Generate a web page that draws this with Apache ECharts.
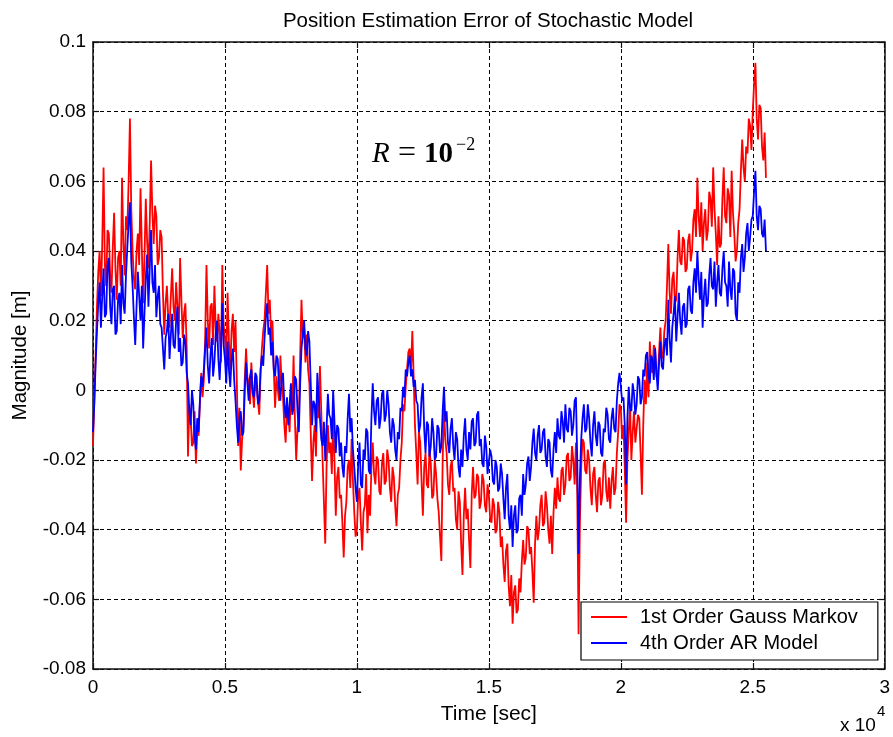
<!DOCTYPE html>
<html>
<head>
<meta charset="utf-8">
<script src="https://cdn.jsdelivr.net/npm/echarts@6/dist/echarts.min.js"></script>
<style>
  html, body { margin: 0; padding: 0; background: #ffffff; }
  #chart { width: 893px; height: 737px; }
</style>
</head>
<body>
<div id="chart"></div>
<script>
// Sampling interval of both error traces, in seconds
const sampleStep = 50;

// Position estimation error [m], 1st order Gauss-Markov model (one row = 1000 s)
const gaussMarkovError = [
  -0.016, -0.002, 0.010, 0.024, 0.034, 0.040, 0.027, 0.042, 0.064, 0.036, 0.030, 0.046, 0.045, 0.033, 0.028, 0.041, 0.051, 0.035, 0.026, 0.038,
  0.040, 0.030, 0.061, 0.042, 0.033, 0.050, 0.046, 0.060, 0.078, 0.052, 0.040, 0.032, 0.029, 0.040, 0.045, 0.036, 0.058, 0.041, 0.025, 0.038,
  0.055, 0.043, 0.035, 0.048, 0.066, 0.051, 0.042, 0.053, 0.050, 0.036, 0.038, 0.046, 0.044, 0.028, 0.016, 0.025, 0.030, 0.021, 0.018, 0.027,
  0.035, 0.024, 0.020, 0.031, 0.024, 0.016, 0.038, 0.026, 0.015, 0.022, 0.025, 0.012, -0.019, -0.004, -0.008, -0.016, -0.015, -0.006, -0.021, -0.012,
  -0.013, -0.004, 0.005, -0.002, 0.003, 0.015, 0.036, 0.020, 0.012, 0.024, 0.025, 0.013, 0.030, 0.018, 0.014, 0.022, 0.016, 0.008, 0.036, 0.019,
  0.015, 0.008, 0.028, 0.014, 0.006, 0.017, 0.022, 0.011, 0.020, 0.002, -0.016, -0.005, -0.023, -0.014, -0.010, 0.003, 0.012, 0.004, 0.002, -0.004,
  0.008, 0.000, -0.005, 0.004, 0.004, -0.003, -0.007, 0.005, 0.012, 0.017, 0.020, 0.028, 0.036, 0.022, 0.026, 0.014, 0.020, 0.006, -0.005, 0.004,
  0.004, -0.003, 0.010, 0.002, -0.002, -0.010, -0.015, -0.004, -0.006, -0.012, 0.001, -0.006, 0.010, -0.008, -0.020, -0.011, -0.008, 0.010, 0.026, 0.015,
  0.018, 0.008, 0.016, 0.006, 0.002, -0.012, -0.026, -0.015, -0.010, -0.019, 0.000, -0.008, 0.007, -0.006, -0.020, -0.032, -0.044, -0.022, -0.010, -0.018,
  -0.015, -0.024, -0.008, -0.020, -0.036, -0.025, -0.022, -0.031, -0.030, -0.038, -0.048, -0.036, -0.032, -0.022, -0.020, -0.028, -0.014, -0.026, -0.035, -0.042,
  -0.040, -0.030, -0.028, -0.038, -0.046, -0.035, -0.033, -0.024, -0.041, -0.030, -0.036, -0.022, -0.015, -0.024, -0.027, -0.019, -0.020, -0.029, -0.030, -0.021,
  -0.018, -0.027, -0.026, -0.017, -0.020, -0.028, -0.032, -0.022, -0.025, -0.033, -0.039, -0.030, -0.028, -0.020, -0.015, -0.004, -0.006, 0.001, 0.006, 0.011,
  0.012, 0.006, 0.017, 0.004, -0.010, -0.018, -0.027, -0.012, -0.015, -0.026, -0.036, -0.022, -0.018, -0.027, -0.028, -0.017, -0.021, -0.031, -0.030, -0.020,
  -0.024, -0.031, -0.035, -0.042, -0.049, -0.020, -0.005, -0.014, -0.018, -0.027, -0.030, -0.022, -0.020, -0.029, -0.028, -0.037, -0.040, -0.029, -0.032, -0.044,
  -0.053, -0.036, -0.028, -0.037, -0.034, -0.043, -0.051, -0.030, -0.022, -0.031, -0.030, -0.024, -0.025, -0.034, -0.032, -0.024, -0.026, -0.033, -0.035, -0.027,
  -0.030, -0.037, -0.038, -0.031, -0.033, -0.041, -0.040, -0.032, -0.035, -0.045, -0.042, -0.050, -0.055, -0.046, -0.044, -0.056, -0.062, -0.053, -0.067, -0.058,
  -0.056, -0.064, -0.063, -0.054, -0.058, -0.049, -0.043, -0.050, -0.048, -0.039, -0.040, -0.047, -0.045, -0.052, -0.061, -0.044, -0.036, -0.043, -0.040, -0.033,
  -0.030, -0.039, -0.038, -0.029, -0.033, -0.040, -0.044, -0.036, -0.047, -0.035, -0.028, -0.034, -0.025, -0.031, -0.032, -0.023, -0.022, -0.030, -0.027, -0.019,
  -0.018, -0.026, -0.025, -0.016, -0.020, -0.027, -0.015, -0.030, -0.070, -0.038, -0.022, -0.014, -0.015, -0.023, -0.024, -0.017, -0.020, -0.028, -0.033, -0.024,
  -0.022, -0.030, -0.035, -0.026, -0.025, -0.033, -0.030, -0.021, -0.020, -0.029, -0.032, -0.025, -0.034, -0.026, -0.022, -0.030, -0.028, -0.018, -0.012, -0.004,
  -0.005, -0.014, -0.010, -0.022, -0.038, -0.020, -0.012, -0.004, -0.020, -0.012, -0.006, -0.015, -0.015, -0.007, -0.008, -0.018, -0.030, -0.010, 0.003, -0.004,
  0.008, -0.002, 0.014, 0.006, 0.005, 0.013, 0.012, 0.004, 0.003, 0.011, 0.018, 0.009, 0.010, 0.017, 0.020, 0.030, 0.042, 0.028, 0.022, 0.032,
  0.034, 0.025, 0.026, 0.038, 0.046, 0.037, 0.036, 0.044, 0.043, 0.034, 0.035, 0.043, 0.045, 0.037, 0.040, 0.049, 0.052, 0.044, 0.061, 0.050,
  0.044, 0.054, 0.040, 0.048, 0.052, 0.043, 0.046, 0.057, 0.055, 0.047, 0.064, 0.052, 0.045, 0.036, 0.050, 0.041, 0.042, 0.055, 0.064, 0.050,
  0.048, 0.058, 0.056, 0.044, 0.063, 0.051, 0.045, 0.037, 0.040, 0.048, 0.052, 0.063, 0.072, 0.064, 0.060, 0.070, 0.068, 0.078, 0.076, 0.069,
  0.080, 0.088, 0.094, 0.078, 0.072, 0.082, 0.081, 0.070, 0.066, 0.074, 0.061
];

// Position estimation error [m], 4th order AR model (one row = 1000 s)
const arModelError = [
  -0.012, -0.004, 0.008, 0.017, 0.025, 0.031, 0.018, 0.027, 0.035, 0.021, 0.022, 0.036, 0.038, 0.024, 0.019, 0.029, 0.030, 0.016, 0.017, 0.026,
  0.028, 0.019, 0.036, 0.025, 0.022, 0.033, 0.041, 0.048, 0.054, 0.037, 0.030, 0.021, 0.013, 0.024, 0.034, 0.027, 0.020, 0.030, 0.012, 0.022,
  0.032, 0.039, 0.024, 0.035, 0.046, 0.031, 0.028, 0.036, 0.021, 0.027, 0.030, 0.019, 0.018, 0.012, 0.006, 0.015, 0.017, 0.022, 0.009, 0.016,
  0.022, 0.013, 0.012, 0.020, 0.024, 0.011, 0.015, 0.007, 0.008, 0.016, 0.014, 0.005, 0.002, -0.006, -0.010, 0.000, -0.004, -0.013, -0.017, -0.008,
  -0.012, -0.003, 0.004, 0.001, 0.006, 0.012, 0.018, 0.007, 0.002, 0.010, 0.015, 0.004, 0.008, 0.016, 0.020, 0.009, 0.003, 0.012, 0.025, 0.013,
  0.009, 0.002, 0.014, 0.006, 0.001, 0.009, 0.012, 0.003, -0.003, -0.010, -0.015, -0.008, -0.006, -0.013, -0.012, 0.000, 0.008, 0.002, -0.003, 0.004,
  0.006, -0.001, -0.002, 0.005, 0.004, -0.004, -0.003, 0.006, 0.010, 0.007, 0.015, 0.021, 0.025, 0.016, 0.018, 0.010, 0.014, 0.006, 0.004, 0.010,
  0.009, 0.001, -0.003, 0.004, 0.005, -0.004, -0.008, -0.002, -0.010, -0.004, 0.002, -0.007, -0.005, 0.004, 0.003, -0.006, -0.012, 0.002, 0.012, 0.016,
  0.020, 0.012, 0.010, 0.017, 0.014, 0.002, -0.010, -0.003, -0.004, -0.012, 0.005, -0.002, -0.008, -0.014, -0.016, -0.009, -0.020, -0.011, -0.001, -0.007,
  -0.008, -0.014, 0.000, -0.009, -0.018, -0.010, -0.011, -0.019, -0.015, -0.022, -0.025, -0.016, -0.018, -0.008, -0.001, -0.012, -0.008, -0.017, -0.022, -0.028,
  -0.032, -0.021, -0.015, -0.027, -0.028, -0.017, -0.020, -0.011, -0.012, -0.023, -0.024, -0.008, 0.002, -0.006, -0.010, -0.003, -0.002, -0.011, -0.008, -0.001,
  0.000, -0.009, -0.007, 0.000, -0.004, -0.012, -0.015, -0.008, -0.010, -0.017, -0.020, -0.012, -0.014, -0.005, -0.006, 0.001, -0.002, 0.006, 0.004, 0.008,
  0.010, 0.004, 0.006, 0.001, 0.003, -0.003, -0.004, -0.012, -0.010, -0.002, 0.002, -0.011, -0.018, -0.009, -0.010, -0.019, -0.016, -0.008, -0.012, -0.020,
  -0.019, -0.010, -0.011, -0.018, -0.016, -0.006, 0.001, -0.009, -0.006, -0.015, -0.018, -0.011, -0.008, -0.016, -0.020, -0.012, -0.014, -0.022, -0.025, -0.017,
  -0.022, -0.013, -0.008, -0.017, -0.020, -0.012, -0.017, -0.009, -0.008, -0.016, -0.015, -0.007, -0.006, -0.016, -0.014, -0.021, -0.022, -0.013, -0.016, -0.024,
  -0.024, -0.017, -0.019, -0.026, -0.027, -0.020, -0.022, -0.029, -0.028, -0.021, -0.024, -0.031, -0.037, -0.028, -0.024, -0.036, -0.040, -0.033, -0.045, -0.036,
  -0.033, -0.041, -0.040, -0.031, -0.030, -0.036, -0.024, -0.030, -0.027, -0.021, -0.019, -0.026, -0.022, -0.015, -0.011, -0.018, -0.020, -0.013, -0.010, -0.018,
  -0.017, -0.012, -0.011, -0.019, -0.022, -0.014, -0.015, -0.023, -0.025, -0.017, -0.012, -0.018, -0.008, -0.013, -0.014, -0.006, -0.009, -0.015, -0.004, -0.011,
  -0.012, -0.005, -0.006, -0.013, -0.010, -0.003, -0.002, -0.020, -0.047, -0.025, -0.014, -0.008, -0.004, -0.012, -0.011, -0.004, -0.008, -0.015, -0.019, -0.010,
  -0.006, -0.013, -0.016, -0.009, -0.010, -0.018, -0.019, -0.011, -0.012, -0.005, -0.007, -0.014, -0.015, -0.008, -0.005, -0.011, -0.012, -0.003, 0.002, 0.005,
  0.005, -0.003, -0.002, -0.010, -0.027, -0.008, 0.001, -0.005, -0.006, 0.002, -0.001, -0.007, -0.004, 0.004, 0.003, -0.004, -0.002, 0.006, 0.004, 0.010,
  0.011, 0.004, 0.002, 0.010, 0.009, 0.003, 0.012, 0.005, 0.000, 0.008, 0.014, 0.007, 0.006, 0.013, 0.015, 0.010, 0.026, 0.015, 0.008, 0.018,
  0.022, 0.027, 0.014, 0.021, 0.028, 0.020, 0.016, 0.024, 0.025, 0.018, 0.019, 0.029, 0.030, 0.023, 0.022, 0.031, 0.035, 0.028, 0.040, 0.032,
  0.026, 0.034, 0.018, 0.027, 0.032, 0.024, 0.025, 0.033, 0.038, 0.030, 0.029, 0.037, 0.024, 0.031, 0.036, 0.028, 0.027, 0.035, 0.040, 0.031,
  0.030, 0.024, 0.037, 0.029, 0.026, 0.035, 0.034, 0.022, 0.020, 0.031, 0.028, 0.038, 0.042, 0.034, 0.038, 0.045, 0.048, 0.040, 0.044, 0.049,
  0.050, 0.057, 0.063, 0.050, 0.046, 0.053, 0.052, 0.045, 0.044, 0.049, 0.040
];

const seriesNames = ['1st Order Gauss Markov', '4th Order AR Model'];
const xTickLabels = ['0', '0.5', '1', '1.5', '2', '2.5', '3'];
const yTickLabels = ['-0.08', '-0.06', '-0.04', '-0.02', '0', '0.02', '0.04', '0.06', '0.08', '0.1'];

const FONT = '"Liberation Sans", Arial, Helvetica, sans-serif';
const SERIF = '"Liberation Serif", "Times New Roman", Times, serif';

const toPoints = arr => arr.map((v, i) => [i * sampleStep, v]);

const gridLine = { show: true, lineStyle: { color: '#000', width: 1, type: [4, 3] } };
const frameLine = { show: true, onZero: false, lineStyle: { color: '#111', width: 1.5 } };
const innerTick = { show: true, inside: true, length: 6, lineStyle: { color: '#111', width: 1.2 } };

const chart = echarts.init(document.getElementById('chart'), null, { renderer: 'canvas' });

chart.setOption({
  animation: false,
  backgroundColor: '#ffffff',
  title: {
    text: 'Position Estimation Error of Stochastic Model',
    left: 483,
    top: 6,
    textAlign: 'center',
    textStyle: { fontFamily: FONT, fontSize: 20.5, fontWeight: 'normal', color: '#000' }
  },
  grid: { left: 93, right: 7, top: 42, bottom: 68, containLabel: false },
  legend: {
    data: seriesNames,
    orient: 'vertical',
    left: 581,
    top: 602,
    icon: 'rect',
    itemWidth: 36,
    itemHeight: 2,
    itemGap: 6,
    padding: [5, 20, 7, 10],
    backgroundColor: '#ffffff',
    borderColor: '#000',
    borderWidth: 1.2,
    borderRadius: 0,
    textStyle: { fontFamily: FONT, fontSize: 20, color: '#000', lineHeight: 20, padding: [0, 0, 0, 8] }
  },
  xAxis: [
    {
      type: 'value', min: 0, max: 30000, interval: 5000,
      name: 'Time [sec]', nameLocation: 'middle', nameGap: 35,
      nameTextStyle: { fontFamily: FONT, fontSize: 21, color: '#000' },
      axisLine: frameLine, axisTick: innerTick, splitLine: gridLine,
      axisLabel: {
        fontFamily: FONT, fontSize: 19, color: '#000', margin: 9,
        formatter: v => xTickLabels[Math.round(v / 5000)]
      }
    },
    {
      type: 'value', position: 'top', min: 0, max: 30000, interval: 5000,
      axisLine: frameLine, axisTick: innerTick,
      axisLabel: { show: false }, splitLine: { show: false }
    }
  ],
  yAxis: [
    {
      type: 'value', min: -0.08, max: 0.1, interval: 0.02,
      name: 'Magnitude [m]', nameLocation: 'middle', nameGap: 62,
      nameTextStyle: { fontFamily: FONT, fontSize: 20.5, color: '#000' },
      axisLine: frameLine, axisTick: innerTick, splitLine: gridLine,
      axisLabel: {
        fontFamily: FONT, fontSize: 19, color: '#000', margin: 7,
        formatter: v => yTickLabels[Math.round((v + 0.08) / 0.02)]
      }
    },
    {
      type: 'value', position: 'right', min: -0.08, max: 0.1, interval: 0.02,
      axisLine: frameLine, axisTick: innerTick,
      axisLabel: { show: false }, splitLine: { show: false }
    }
  ],
  series: [
    {
      name: seriesNames[0], type: 'line', data: toPoints(gaussMarkovError),
      showSymbol: false, color: '#ff0000',
      lineStyle: { color: '#ff0000', width: 1.8 }, z: 3
    },
    {
      name: seriesNames[1], type: 'line', data: toPoints(arModelError),
      showSymbol: false, color: '#0000ff',
      lineStyle: { color: '#0000ff', width: 1.8 }, z: 4
    }
  ],
  graphic: [
    // axis scale factor below the x axis
    { type: 'text', left: 840, top: 716, style: { text: 'x 10', fontFamily: FONT, fontSize: 19, fill: '#000' } },
    { type: 'text', left: 877, top: 704, style: { text: '4', fontFamily: FONT, fontSize: 15, fill: '#000' } },
    // measurement noise annotation
    { type: 'text', left: 372, top: 140, style: { text: 'R', fontFamily: SERIF, fontStyle: 'italic', fontSize: 29, fill: '#000' } },
    { type: 'text', left: 398, top: 138, style: { text: '=', fontFamily: SERIF, fontSize: 32, fill: '#000' } },
    { type: 'text', left: 424, top: 140, style: { text: '10', fontFamily: SERIF, fontSize: 29, fontWeight: 'bold', fill: '#000' } },
    { type: 'text', left: 456, top: 136, style: { text: '\u22122', fontFamily: SERIF, fontSize: 18, fill: '#000' } }
  ]
});
</script>
</body>
</html>
